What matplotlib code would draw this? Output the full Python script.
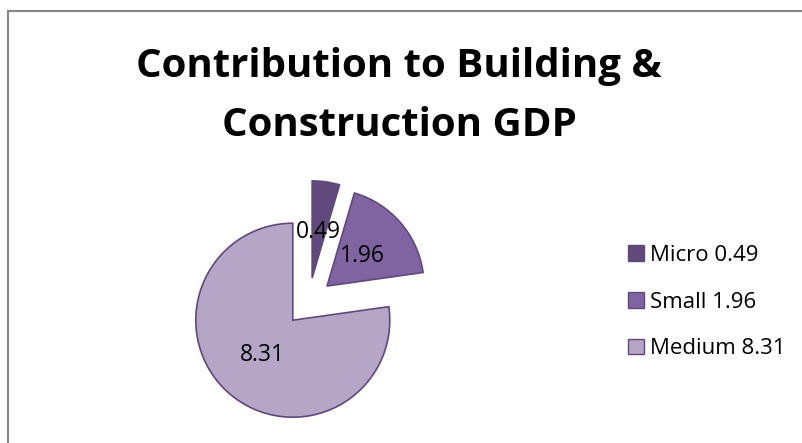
import matplotlib.pyplot as plt
from matplotlib.patches import Rectangle

categories = ['Micro', 'Small', 'Medium']
values = [0.49, 1.96, 8.31]
title_lines = ['Contribution to Building &', 'Construction GDP']
colors = ['#604a7b', '#8064a2', '#b5a6c8']
edge = '#5f497a'

W, H = 803, 443
fig = plt.figure(figsize=(W / 100, H / 100), dpi=100)
fig.patch.set_facecolor('white')

# chart border (right/bottom edges fall outside the picture)
fig.patches.append(Rectangle((8 / W, -0.1), 1.2, (H - 11) / H + 0.1,
                             transform=fig.transFigure, fill=False,
                             edgecolor='#868686', linewidth=1.5))

for line, base in zip(title_lines, [77, 136]):
    fig.text(0.497, 1 - base / H, line, ha='center', va='baseline',
             fontsize=29, fontweight='bold', family='Open Sans')

# pie axes: center ~ (309, 302) px, radius ~ 97 px
R = 97
lim = 1.3
cx, cy = 308.7, H - 301.9
side = 2 * lim * R
ax = fig.add_axes([(cx - side / 2) / W, (cy - side / 2) / H, side / W, side / H])
wedges, texts, autotexts = ax.pie(
    values, colors=colors, startangle=90, counterclock=False,
    explode=[0.25] * 3, autopct=lambda p: '',
    pctdistance=0.48,
    wedgeprops=dict(edgecolor=edge, linewidth=1.2))
for t, v in zip(autotexts, values):
    t.set_text(f'{v:.2f}')
    t.set_fontsize(16.5)
    t.set_family('Open Sans')
    t.set_color('black')
ax.set_xlim(-lim, lim)
ax.set_ylim(-lim, lim)
ax.set_aspect('equal')
ax.axis('off')

handles = [Rectangle((0, 0), 1, 1, facecolor=c, edgecolor=edge, linewidth=1)
           for c in colors]
labels = [f'{c} {v:.2f}' for c, v in zip(categories, values)]
fig.legend(handles, labels, loc='center left',
           bbox_to_anchor=(628 / W, (H - 302) / H), frameon=False,
           prop={'family': 'Open Sans', 'size': 16},
           handlelength=0.7, handleheight=0.7, handletextpad=0.3,
           labelspacing=1.15, borderaxespad=0, borderpad=0)

fig.savefig('out.png', dpi=100)
